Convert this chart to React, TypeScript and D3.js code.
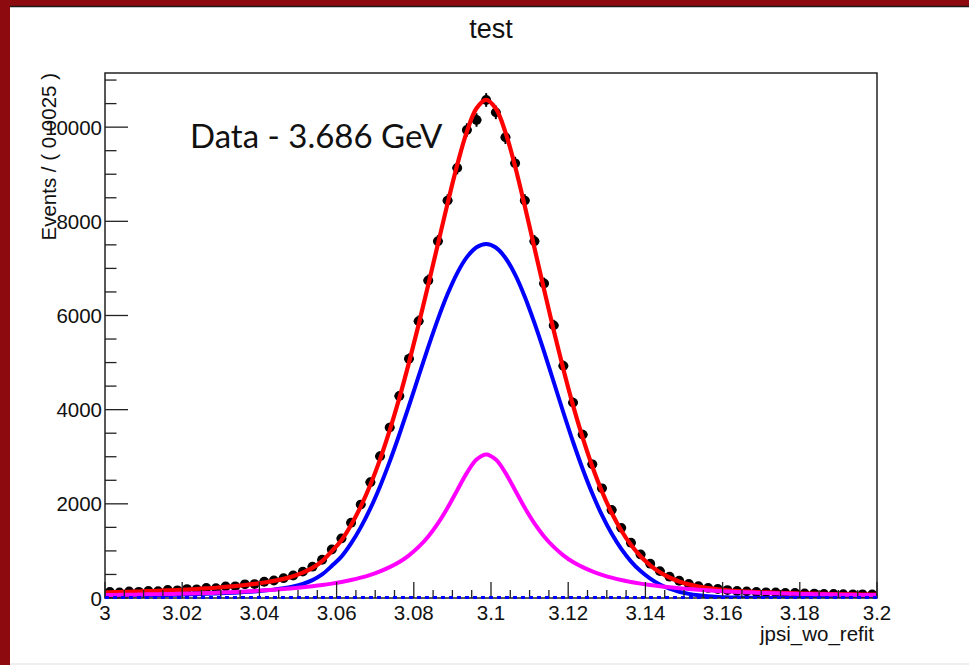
import React from 'react';
import * as d3 from 'd3';

// ---- chart content ----
const chartTitle = 'test';
const xAxisTitle = 'jpsi_wo_refit';
const yAxisTitle = 'Events / ( 0.0025 )';
const annotation = 'Data - 3.686 GeV';

const xRange = [3.0, 3.2];
const binWidth = 0.0025;
const yMax = 11150;

const xTickValues = [3.0, 3.02, 3.04, 3.06, 3.08, 3.1, 3.12, 3.14, 3.16, 3.18, 3.2];
const xTickLabels = ['3', '3.02', '3.04', '3.06', '3.08', '3.1', '3.12', '3.14', '3.16', '3.18', '3.2'];
const yTickValues = [0, 2000, 4000, 6000, 8000, 10000];
const yTickLabels = ['0', '2000', '4000', '6000', '8000', '10000'];

// event counts per 0.0025 bin, 3.000 .. 3.200
const dataCounts = [
  128, 118, 140, 131, 150, 146, 171, 163, 190, 184,
  213, 209, 246, 248, 291, 296, 345, 372, 420, 478,
  560, 665, 812, 1030, 1265, 1600, 1985, 2460, 3010, 3620,
  4290, 5080, 5880, 6745, 7578, 8441, 9135, 9940, 10152, 10577,
  10314, 9784, 9232, 8441, 7578, 6680, 5790, 4930, 4150, 3470,
  2840, 2330, 1870, 1490, 1175, 925, 728, 571, 452, 366,
  297, 252, 214, 191, 168, 150, 141, 129, 121, 117,
  108, 106, 97, 95, 88, 86, 83, 79, 78, 74,
];

// fitted curves sampled at 3.000, every bin centre, and 3.200
const totalFit = [
  117, 119, 125, 131, 137, 144, 152, 160, 169, 179,
  191, 204, 218, 235, 254, 276, 301, 330, 364, 406,
  463, 538, 640, 785, 995, 1228, 1551, 1942, 2405, 2945,
  3561, 4245, 4999, 5806, 6652, 7518, 8381, 9199, 9906, 10400,
  10580, 10395, 9889, 9165, 8325, 7437, 6551, 5682, 4856, 4091,
  3405, 2793, 2261, 1810, 1434, 1129, 886, 695, 546, 435,
  351, 289, 243, 209, 184, 164, 148, 136, 126, 118,
  111, 105, 100, 95, 91, 87, 83, 80, 77, 74,
  72, 71,
];
const signalCore = [
  44, 45, 48, 51, 54, 57, 61, 65, 70, 75,
  81, 88, 95, 104, 114, 126, 140, 157, 178, 205,
  245, 300, 380, 500, 680, 878, 1159, 1500, 1903, 2370,
  2896, 3472, 4083, 4711, 5334, 5924, 6455, 6901, 7239, 7449,
  7520, 7444, 7222, 6867, 6399, 5843, 5233, 4587, 3940, 3318,
  2740, 2218, 1759, 1368, 1042, 779, 571, 410, 286, 197,
  133, 88, 57, 36, 23, 14, 8, 5, 3, 2,
  1, 1, 1, 0, 0, 0, 0, 0, 0, 0,
  0, 0,
];
const signalWide = [
  63, 64, 67, 70, 73, 77, 81, 85, 89, 94,
  100, 106, 113, 121, 130, 140, 151, 163, 176, 191,
  208, 228, 250, 275, 305, 340, 382, 432, 492, 565,
  655, 763, 906, 1085, 1308, 1584, 1916, 2288, 2657, 2941,
  3050, 2941, 2657, 2288, 1916, 1584, 1308, 1085, 906, 763,
  655, 565, 492, 432, 382, 340, 305, 275, 250, 228,
  208, 191, 176, 163, 151, 140, 130, 121, 113, 106,
  100, 94, 89, 85, 81, 77, 73, 70, 67, 64,
  62, 61,
];
const backgroundX = [3.0, 3.2];
const backgroundFit = [10, 10];

// ---- layout ----
const W = 969;
const H = 665;
const frame = { left: 105, right: 877, top: 73, bottom: 598 };
const rootFont = '"Liberation Sans", Arial, Helvetica, sans-serif';

export default function App() {
  const x = d3.scaleLinear().domain(xRange).range([frame.left, frame.right]);
  const y = d3.scaleLinear().domain([0, yMax]).range([frame.bottom, frame.top]);

  const binCentres = dataCounts.map((_, i) => xRange[0] + (i + 0.5) * binWidth);
  const curveX = [xRange[0], ...binCentres, xRange[1]];

  const line = d3
    .line<[number, number]>()
    .x((d) => x(d[0]))
    .y((d) => y(d[1]))
    .curve(d3.curveCatmullRom.alpha(0.5));

  const pathOf = (vals: number[], xs: number[] = curveX) =>
    line(vals.map((v, i) => [xs[i], v] as [number, number])) || '';

  const xMinor = d3.range(0, 41).map((i) => xRange[0] + i * 0.005);
  const yMinor = d3.range(0, 23).map((i) => i * 500);

  return (
    <div style={{ position: 'fixed', left: 0, top: 0 }}>
      <svg width={W} height={H} viewBox={`0 0 ${W} ${H}`} style={{ display: 'block' }}>
        <rect x={0} y={0} width={W} height={H} fill="#ffffff" />
        {/* window chrome */}
        <rect x={0} y={0} width={W} height={6} fill="#8d0a0e" />
        <rect x={0} y={0} width={10} height={H} fill="#8d0a0e" />
        <line x1={10} x2={W} y1={6.5} y2={6.5} stroke="#1a1a1a" strokeWidth={1.5} />
        <rect x={10} y={663} width={W - 10} height={2} fill="#eeeeee" />

        <defs>
          <clipPath id="plotArea">
            <rect x={frame.left} y={frame.top} width={frame.right - frame.left} height={frame.bottom - frame.top} />
          </clipPath>
        </defs>

        {/* data points */}
        <g clipPath="url(#plotArea)" fill="#000" stroke="#000">
          {dataCounts.map((n, i) => {
            const cx = x(binCentres[i]);
            const cy = y(n);
            const err = Math.sqrt(n);
            return (
              <g key={i}>
                <line x1={x(binCentres[i] - binWidth / 2)} x2={x(binCentres[i] + binWidth / 2)} y1={cy} y2={cy} strokeWidth={2.2} />
                <line x1={cx} x2={cx} y1={y(n - err) + 2} y2={y(n + err) - 2} strokeWidth={2} />
                <circle cx={cx} cy={cy} r={4.9} stroke="none" />
              </g>
            );
          })}
        </g>

        {/* fit curves */}
        <g clipPath="url(#plotArea)" fill="none" strokeLinejoin="round">
          <path d={pathOf(totalFit)} stroke="#ff0000" strokeWidth={4.2} />
          <path d={pathOf(signalCore)} stroke="#0000ff" strokeWidth={4} />
          <path d={pathOf(signalWide)} stroke="#ff00ff" strokeWidth={4} />
        </g>

        {/* frame */}
        <rect
          x={frame.left}
          y={frame.top}
          width={frame.right - frame.left}
          height={frame.bottom - frame.top}
          fill="none"
          stroke="#222"
          strokeWidth={1.5}
        />

        {/* axis ticks */}
        <g stroke="#222" strokeWidth={1.3}>
          {xMinor.map((v, i) => (
            <line key={'xm' + i} x1={x(v)} x2={x(v)} y1={frame.bottom} y2={frame.bottom - (i % 4 === 0 ? 16 : 8)} />
          ))}
          {yMinor.map((v, i) => (
            <line key={'ym' + i} x1={frame.left} x2={frame.left + (i % 4 === 0 ? 23 : 11.5)} y1={y(v)} y2={y(v)} />
          ))}
        </g>

        {/* background component, dotted along the axis */}
        <path
          d={pathOf(backgroundFit, backgroundX)}
          fill="none"
          stroke="#0000ff"
          strokeWidth={3}
          strokeDasharray="4 4"
        />

        {/* tick labels */}
        <g fontFamily={rootFont} fontSize={20.5} fill="#111">
          {xTickValues.map((v, i) => (
            <text key={'xl' + i} x={x(v)} y={620} textAnchor="middle">
              {xTickLabels[i]}
            </text>
          ))}
          {yTickValues.map((v, i) => (
            <text key={'yl' + i} x={frame.left - 3} y={y(v) + 7.5} textAnchor="end">
              {yTickLabels[i]}
            </text>
          ))}
          <text x={874} y={641} textAnchor="end">
            {xAxisTitle}
          </text>
          <text transform={`translate(56, ${frame.top}) rotate(-90)`} textAnchor="end">
            {yAxisTitle}
          </text>
        </g>

        <text x={491} y={38} textAnchor="middle" fontFamily={rootFont} fontSize={27} fill="#111">
          {chartTitle}
        </text>

        <text x={190} y={148} fontFamily="Lato, sans-serif" fontSize={33} fill="#111">
          {annotation}
        </text>
      </svg>
    </div>
  );
}
